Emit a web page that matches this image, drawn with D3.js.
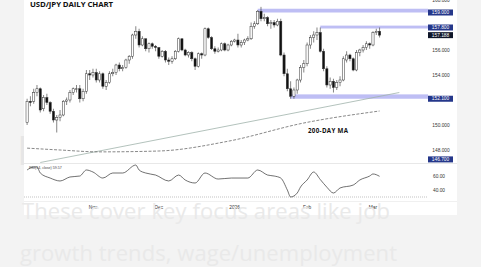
<!DOCTYPE html>
<html>
<head>
<meta charset="utf-8">
<script src="https://cdn.jsdelivr.net/npm/d3@7"></script>
<style>
  html, body { margin: 0; padding: 0; background: #f3f3f3; overflow: hidden; }
  svg { display: block; }
</style>
</head>
<body>
<svg id="chart" width="481" height="267"></svg>
<script>
// USD/JPY daily candles, first bar Mon 6 Oct 2025, one bar per weekday
var startDate = "2025-10-06";
var opens = [150.2,151.9,151.9,152.6,152.9,151.3,152.2,151.8,151.1,150.4,150.6,150.8,151.9,152.0,152.6,152.9,152.9,152.1,152.7,154.1,
  154.0,154.2,153.6,154.1,153.1,153.4,154.1,154.2,154.8,154.5,154.6,155.2,155.5,157.2,157.5,156.4,156.9,156.1,156.5,156.3,
  156.2,155.5,155.9,155.2,155.1,155.3,155.9,156.9,156.0,155.6,155.8,155.3,154.7,155.7,155.6,157.7,157.0,156.1,155.9,156.0,
  156.5,156.0,156.4,156.7,156.8,156.4,156.6,156.8,156.9,157.9,158.1,159.1,158.5,158.6,158.1,158.2,158.0,158.3,155.6,154.1,
  152.9,152.3,152.8,153.6,154.6,154.9,156.4,157.0,157.2,157.4,155.9,154.5,153.2,153.5,153.0,153.4,153.6,155.2,155.6,155.3,
  154.4,155.8,156.0,156.2,156.5,156.4,157.4,157.5];
var highs = [152.1,152.3,152.9,153.2,153.0,152.4,152.5,151.9,151.3,150.8,151.2,152.0,152.2,152.8,153.0,153.2,153.2,152.9,154.4,154.4,
  154.5,154.5,154.3,154.2,153.6,154.3,154.5,154.9,155.0,154.8,155.3,155.6,157.3,157.9,157.7,157.1,156.9,156.6,156.6,156.4,
  156.2,156.0,156.0,155.4,155.5,156.0,157.0,156.9,156.1,155.9,155.9,155.4,155.8,155.8,157.8,157.8,157.1,156.3,156.2,156.6,
  156.6,156.5,156.8,156.9,157.3,156.8,156.9,157.1,158.2,158.3,159.2,159.45,158.9,158.7,158.4,158.4,158.5,158.5,155.8,154.5,
  153.5,153.0,153.7,154.8,155.2,156.6,157.2,157.5,157.8,157.8,156.1,154.7,153.8,153.7,153.6,153.9,155.5,155.9,155.7,155.4,
  156.0,156.1,156.4,156.7,156.6,157.5,157.7,157.8];
var lows = [150.0,151.5,151.7,152.3,151.0,151.1,151.6,150.9,150.2,149.4,150.3,150.7,151.6,151.8,152.4,152.6,151.8,151.9,152.5,153.6,
  153.8,153.4,153.4,152.9,152.8,153.3,153.9,154.0,154.3,154.3,154.5,154.9,155.3,156.9,156.2,156.3,155.9,155.8,156.1,155.9,
  155.3,155.4,155.0,154.8,154.9,155.2,155.8,155.9,155.5,155.4,155.1,154.4,154.6,155.3,155.5,156.9,156.0,155.7,155.8,155.9,
  155.9,155.9,156.3,156.6,156.2,156.2,156.4,156.7,156.8,157.7,158.0,158.3,158.3,157.9,157.7,157.8,157.9,155.5,153.9,152.7,
  152.1,152.1,152.5,153.4,154.2,154.7,156.1,156.6,156.8,155.8,154.3,153.0,152.9,152.6,152.8,153.1,153.5,155.0,155.1,154.3,
  154.3,155.5,155.8,156.0,156.1,156.3,157.2,157.0];
var closes = [151.9,151.8,152.6,152.9,151.2,152.2,151.8,151.1,150.4,150.6,150.8,151.9,152.0,152.6,152.9,152.9,152.1,152.7,154.1,154.0,
  154.2,153.6,154.1,153.1,153.4,154.1,154.2,154.8,154.5,154.6,155.2,155.5,157.2,157.5,156.4,156.9,156.1,156.5,156.3,156.2,
  155.5,155.9,155.2,155.1,155.3,155.9,156.9,156.0,155.6,155.8,155.3,154.7,155.7,155.6,157.7,157.0,156.1,155.9,156.0,156.5,
  156.0,156.4,156.7,156.8,156.4,156.6,156.8,156.9,157.9,158.1,159.1,158.5,158.6,158.1,158.2,158.0,158.3,155.6,154.1,152.9,
  152.3,152.8,153.6,154.6,154.9,156.4,157.0,157.2,157.4,155.9,154.5,153.2,153.5,153.0,153.4,153.6,155.3,155.6,155.3,154.4,
  155.8,156.0,156.2,156.5,156.4,157.4,157.5,157.188];

// 200-day moving average, read at a few bars
var ma200Idx = [0, 10, 22, 40, 61, 84, 107];
var ma200Val = [148.15, 148.0, 147.85, 147.92, 148.7, 150.16, 151.12];

// rising trend line (two anchor points)
var trendIdx = [4, 113];
var trendVal = [147.0, 152.6];

// RSI(14) read at a few bars
var rsiIdx = [0, 2, 3, 4, 7, 10, 13, 16, 18, 20, 23, 26, 29, 33, 34, 36, 39, 43, 46, 48, 51, 54, 58, 62, 67, 70, 73, 75, 77, 79, 80, 82, 83, 85, 87, 89, 91, 93, 95, 99, 101, 104, 105, 107];
var rsiVal = [68.6, 72.9, 72.9, 64.3, 57.1, 52.9, 58.6, 60, 68.6, 65.7, 57.1, 64.3, 64.3, 75.7, 68.6, 64.3, 61.4, 52.9, 61.4, 54.3, 50, 64.3, 55.7, 57.1, 57.1, 68.6, 61.4, 60, 57.1, 40, 30, 35.7, 44.3, 54.3, 65.7, 55, 44, 35.7, 42.9, 47.1, 54.3, 60, 62.9, 59.57];

// support / resistance zones
var zoneLow = [159.0, 157.72, 152.1];
var zoneHigh = [159.3, 157.95, 152.45];
var zoneStart = [70, 89, 80];

var markLevels = [159.0, 157.8, 152.1, 146.7];
var priceTicks = [148, 150, 154, 156, 160];
var rsiTicks = [40, 60];
var rsiOversold = 30;
var monthDates = ["2025-11-03", "2025-12-01", "2026-01-01", "2026-02-02", "2026-03-02"];
var monthLabels = ["Nov", "Dec", "2026", "Feb", "Mar"];

var noteLines = ["These cover key focus areas like job", "growth trends, wage/unemployment"];

(function () {
  'use strict';

  var svg = d3.select("#chart");
  var font = "'Liberation Sans', Arial, sans-serif";

  // weekday dates for each bar
  var dates = [];
  var d = new Date(startDate + "T00:00:00Z");
  while (dates.length < closes.length) {
    var wd = d.getUTCDay();
    if (wd !== 0 && wd !== 6) dates.push(d.toISOString().slice(0, 10));
    d = new Date(d.getTime() + 86400000);
  }

  var card = { x: 24, y: 0, w: 433, h: 215 };
  var plotRight = 428;
  var priceBottom = 163, rsiBottom = 201;

  var x = d3.scaleLinear().domain([0, 121.7]).range([27.1, plotRight]);
  var y = d3.scaleLinear().domain([146.96, 160]).range([priceBottom, 0]);
  var yr = d3.scaleLinear().domain([24.3, 78.6]).range([rsiBottom, 163]);

  // faded page text peeking out behind the chart card
  svg.append("text")
    .attr("x", 17).attr("y", 165)
    .style("font-family", "'Open Sans', sans-serif")
    .style("font-size", "40px")
    .attr("fill", "#e6e6e6")
    .text("I");

  svg.append("rect")
    .attr("x", card.x).attr("y", card.y)
    .attr("width", card.w).attr("height", card.h)
    .attr("fill", "#ffffff");

  svg.append("defs").append("clipPath").attr("id", "priceClip")
    .append("rect").attr("x", card.x).attr("y", 0)
    .attr("width", plotRight - card.x).attr("height", priceBottom);

  // pane separators
  svg.append("line")
    .attr("x1", card.x).attr("x2", card.x + card.w)
    .attr("y1", priceBottom + 0.5).attr("y2", priceBottom + 0.5)
    .attr("stroke", "#e2e2e2").attr("stroke-width", 0.8);
  svg.append("line")
    .attr("x1", card.x).attr("x2", card.x + card.w)
    .attr("y1", rsiBottom + 0.5).attr("y2", rsiBottom + 0.5)
    .attr("stroke", "#ececec").attr("stroke-width", 0.8);

  var price = svg.append("g").attr("clip-path", "url(#priceClip)");

  // zones
  price.selectAll(".zone")
    .data(zoneLow)
    .enter().append("rect")
    .attr("class", "zone")
    .attr("x", function (lo, i) { return x(zoneStart[i]); })
    .attr("width", function (lo, i) { return plotRight - x(zoneStart[i]); })
    .attr("y", function (lo, i) { return y(zoneHigh[i]); })
    .attr("height", function (lo, i) { return y(lo) - y(zoneHigh[i]); })
    .attr("fill", "#b3b3f2")
    .attr("opacity", 0.85);

  // trend line and 200-day MA
  price.append("path")
    .datum(trendIdx)
    .attr("d", d3.line()
      .x(function (v) { return x(v); })
      .y(function (v, i) { return y(trendVal[i]); }))
    .attr("fill", "none")
    .attr("stroke", "#9fb2ab")
    .attr("stroke-width", 0.8);

  price.append("path")
    .datum(ma200Idx)
    .attr("d", d3.line()
      .curve(d3.curveMonotoneX)
      .x(function (v) { return x(v); })
      .y(function (v, i) { return y(ma200Val[i]); }))
    .attr("fill", "none")
    .attr("stroke", "#555")
    .attr("stroke-width", 0.7)
    .attr("stroke-dasharray", "3,1.5");

  // candles
  var candle = price.selectAll(".candle")
    .data(closes)
    .enter().append("g")
    .attr("class", "candle");

  candle.append("line")
    .attr("x1", function (c, i) { return x(i); })
    .attr("x2", function (c, i) { return x(i); })
    .attr("y1", function (c, i) { return y(highs[i]); })
    .attr("y2", function (c, i) { return y(lows[i]); })
    .attr("stroke", "#333")
    .attr("stroke-width", 0.6);

  candle.append("rect")
    .attr("x", function (c, i) { return x(i) - 1.1; })
    .attr("width", 2.2)
    .attr("y", function (c, i) { return y(Math.max(opens[i], c)); })
    .attr("height", function (c, i) { return Math.max(0.6, Math.abs(y(opens[i]) - y(c))); })
    .attr("fill", function (c, i) { return c >= opens[i] ? "#ffffff" : "#111"; })
    .attr("stroke", "#333")
    .attr("stroke-width", 0.5);

  svg.append("text")
    .attr("x", 308).attr("y", 132.5)
    .attr("textLength", 40)
    .style("font-family", "'Open Sans', sans-serif")
    .style("font-weight", "bold")
    .style("font-size", "6.2px")
    .attr("fill", "#111")
    .text("200-DAY MA");

  // RSI pane
  svg.append("line")
    .attr("x1", card.x).attr("x2", plotRight)
    .attr("y1", yr(rsiOversold)).attr("y2", yr(rsiOversold))
    .attr("stroke", "#9a9a9a").attr("stroke-width", 0.6)
    .attr("stroke-dasharray", "1,1");

  svg.append("path")
    .datum(rsiIdx)
    .attr("d", d3.line()
      .curve(d3.curveMonotoneX)
      .x(function (v) { return x(v); })
      .y(function (v, i) { return yr(rsiVal[i]); }))
    .attr("fill", "none")
    .attr("stroke", "#333")
    .attr("stroke-width", 0.7);

  svg.append("text")
    .attr("x", 29).attr("y", 169)
    .style("font-family", font).style("font-size", "3.6px")
    .attr("fill", "#444")
    .text("RSI(14, close) " + rsiVal[rsiVal.length - 1].toFixed(2));

  // axes labels
  var axisG = svg.append("g").style("font-family", font).style("font-size", "4.8px").attr("fill", "#333");

  axisG.selectAll(".ptick")
    .data(priceTicks)
    .enter().append("text")
    .attr("x", 441).attr("y", function (v) { return y(v) + 1.7; })
    .attr("text-anchor", "middle")
    .text(function (v) { return v.toFixed(3); });

  axisG.selectAll(".rtick")
    .data(rsiTicks)
    .enter().append("text")
    .attr("x", 439).attr("y", function (v) { return yr(v) + 1.7; })
    .attr("text-anchor", "middle")
    .text(function (v) { return v.toFixed(2); });

  axisG.selectAll(".mtick")
    .data(monthDates)
    .enter().append("text")
    .attr("x", function (m) { return x(dates.indexOf(m)); })
    .attr("y", 209)
    .attr("text-anchor", "middle")
    .text(function (m, i) { return monthLabels[i]; });

  // price marks on the right scale
  var marks = markLevels.map(function (v) { return { v: v, current: false }; });
  marks.push({ v: closes[closes.length - 1], current: true });

  var mark = svg.selectAll(".mark")
    .data(marks)
    .enter().append("g")
    .attr("class", "mark")
    .attr("transform", function (m) {
      var cy = Math.min(y(m.v), priceBottom - 3.6);
      return "translate(0," + cy + ")";
    });

  mark.append("rect")
    .attr("x", plotRight).attr("y", -3)
    .attr("width", 25).attr("height", 6)
    .attr("fill", function (m) { return m.current ? "#0f1629" : "#25378a"; });

  mark.append("text")
    .attr("x", plotRight + 12.5).attr("y", 1.7)
    .attr("text-anchor", "middle")
    .style("font-family", font).style("font-size", "4.8px")
    .attr("fill", "#fff")
    .text(function (m) { return m.v.toFixed(3); });

  svg.append("text")
    .attr("x", 30).attr("y", 6.8)
    .attr("textLength", 83)
    .style("font-family", "'Open Sans', sans-serif")
    .style("font-weight", "bold")
    .style("font-size", "7.8px")
    .attr("fill", "#111")
    .text("USD/JPY DAILY CHART");

  // faded article text under the chart
  svg.selectAll(".note")
    .data(noteLines)
    .enter().append("text")
    .attr("x", function (t, i) { return i === 0 ? 22 : 20; })
    .attr("y", function (t, i) { return 219 + i * 42; })
    .attr("textLength", function (t, i) { return i === 0 ? 368 : 377; })
    .style("font-family", "'Open Sans', sans-serif")
    .style("font-size", "22px")
    .attr("fill", "#e9e9e9")
    .text(function (t) { return t; });
})();
</script>
</body>
</html>
